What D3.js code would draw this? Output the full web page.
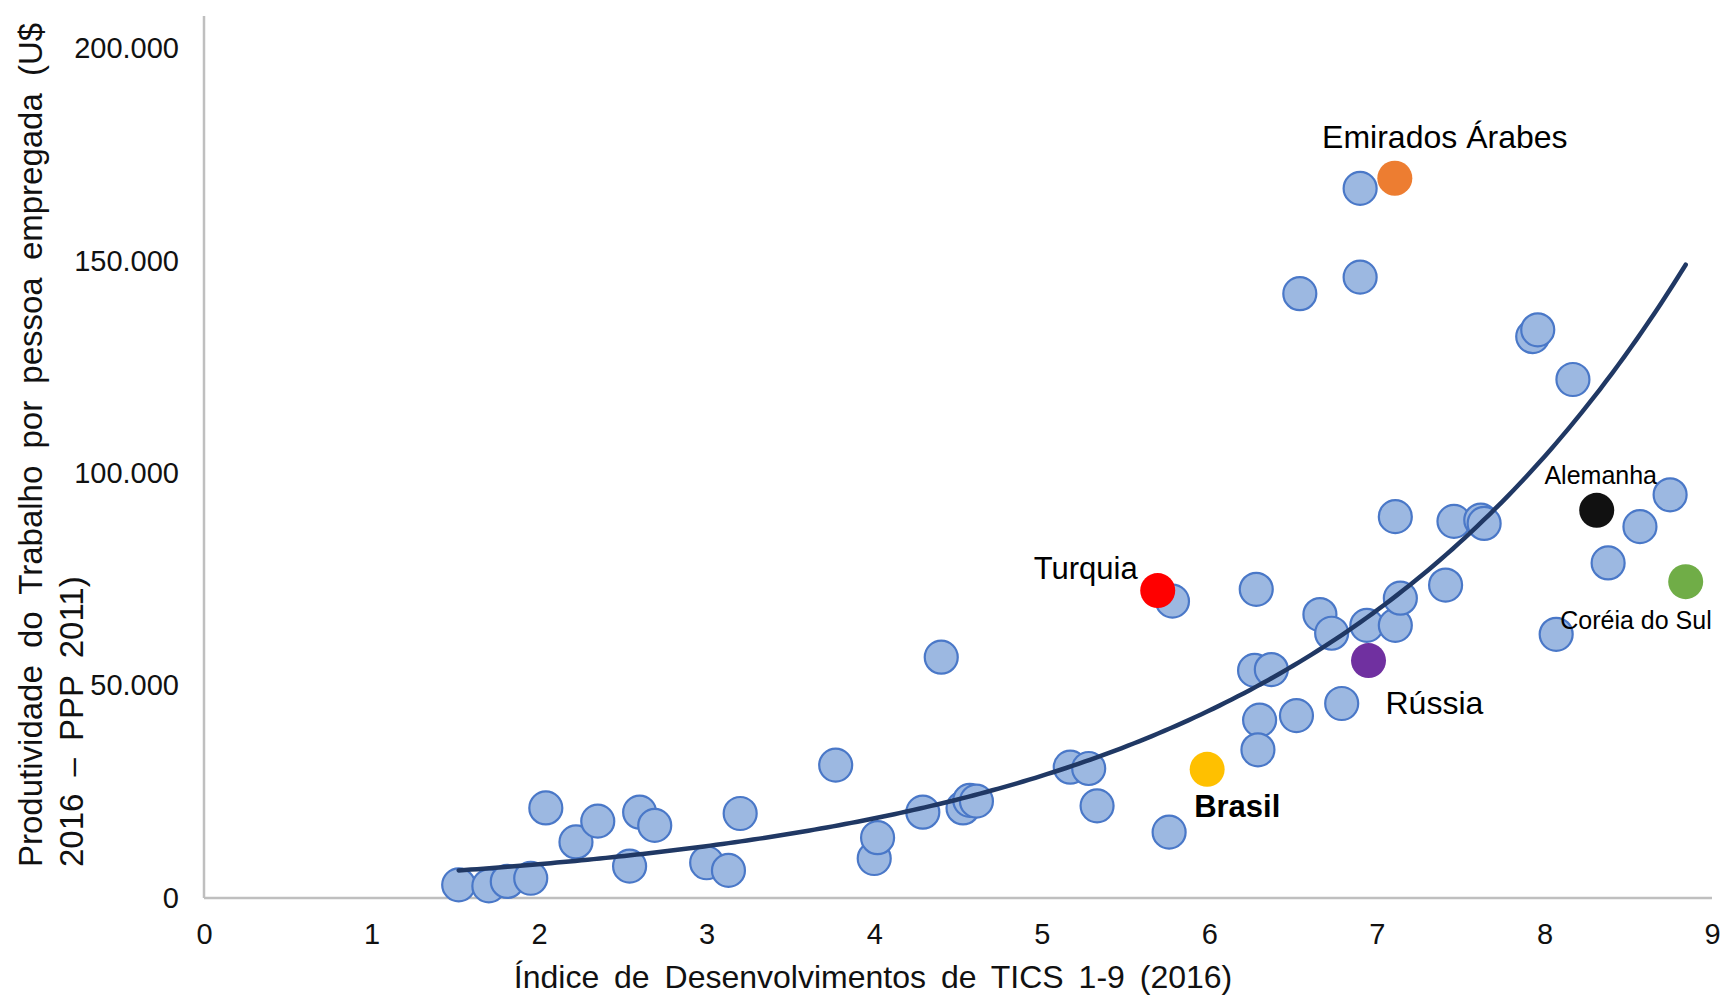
<!DOCTYPE html>
<html><head><meta charset="utf-8">
<script src="https://cdn.jsdelivr.net/npm/d3@7"></script>
<style>body{margin:0;background:#fff}svg{display:block}</style>
</head><body><svg id="c" width="1721" height="997"></svg>
<script>
// ---- data ----
const ictIndex = [1.52,1.70,1.81,1.95,2.04,2.22,2.35,2.54,2.60,2.69,3.00,3.13,3.20,3.77,4.00,4.02,4.29,4.40,4.53,4.57,4.61,5.17,5.28,5.33,5.76,5.78,6.28,6.27,6.37,6.30,6.29,6.52,6.54,6.66,6.73,6.79,6.90,6.90,6.94,7.11,7.11,7.14,7.41,7.46,7.62,7.64,7.93,7.96,8.17,8.07,8.38,8.57,8.75];
const productivity = [3100,2850,3900,4650,21200,13200,18100,7500,20200,17100,8300,6500,19900,31300,9300,14200,20200,56700,21200,23000,22800,30800,30500,21700,15500,69900,72700,53600,53800,41900,34900,42950,142300,66750,62350,45800,167100,146200,64200,89800,64200,70600,73700,88700,89000,88200,132200,133800,122100,62100,78900,87450,94950];

const highlightNames = ["Emirados Árabes","Turquia","Rússia","Brasil","Alemanha","Coréia do Sul"];
const highlightX = [7.107,5.692,6.950,5.987,8.312,8.843];
const highlightY = [169500,72400,55900,30300,91300,74500];
const highlightColors = ["#ed7d31","#ff0000","#7030a0","#ffc000","#111111","#70ad47"];

const xTicks = [0,1,2,3,4,5,6,7,8,9];
const yTicks = [0,50000,100000,150000,200000];
const xTitle = "Índice de Desenvolvimentos de TICS 1-9 (2016)";
const yTitleLines = ["Produtividade do Trabalho por pessoa empregada (U$","2016 – PPP 2011)"];

// ---- layout ----
const svg = d3.select("#c");
const x = d3.scaleLinear().domain([0,9]).range([204,1712]);
const y = d3.scaleLinear().domain([0,207700]).range([898,16]);
const fmt = d3.formatLocale({decimal:",",thousands:".",grouping:[3],currency:["R$",""]}).format(",d");
const font = "Arial, 'Liberation Sans', sans-serif";

// axes lines
svg.append("line").attr("x1",x(0)).attr("x2",x(0)).attr("y1",y(0)).attr("y2",y(207700))
  .attr("stroke","#bfbfbf").attr("stroke-width",2.5);
svg.append("line").attr("x1",x(0)).attr("x2",x(9)).attr("y1",y(0)).attr("y2",y(0))
  .attr("stroke","#bfbfbf").attr("stroke-width",2.5);

// tick labels via d3 axes
const xAxis = svg.append("g").attr("transform",`translate(0,${y(0)})`)
  .call(d3.axisBottom(x).tickValues(xTicks).tickFormat(d3.format("d")).tickSize(0).tickPadding(25));
const yAxis = svg.append("g").attr("transform",`translate(${x(0)},0)`)
  .call(d3.axisLeft(y).tickValues(yTicks).tickFormat(fmt).tickSize(0).tickPadding(25));
[xAxis,yAxis].forEach(a=>{
  a.select(".domain").remove();
  a.selectAll("text").attr("font-family",font).attr("font-size",29).attr("fill","#111");
});

// axis titles
svg.append("text").attr("x",873).attr("y",988).attr("text-anchor","middle")
  .attr("font-family",font).attr("font-size",32).attr("word-spacing",6).attr("fill","#111").text(xTitle);
yTitleLines.forEach((t,i)=>{
  svg.append("text").attr("transform",`translate(${42+i*41},867) rotate(-90)`)
    .attr("text-anchor","start").attr("font-family",font).attr("font-size",33)
    .attr("word-spacing",8).attr("fill","#111").text(t);
});

// points
const pts = ictIndex.map((v,i)=>({x:v,y:productivity[i]}));
svg.append("g").selectAll("circle").data(pts).join("circle")
  .attr("cx",d=>x(d.x)).attr("cy",d=>y(d.y)).attr("r",16.5)
  .attr("fill","#9cb8e1").attr("stroke","#4a78c8").attr("stroke-width",2.2);

// exponential trendline (least squares on ln y, like the spreadsheet trendline)
const all = pts.concat(highlightX.map((v,i)=>({x:v,y:highlightY[i]})));
const n = all.length;
const mx = d3.mean(all,d=>d.x), ml = d3.mean(all,d=>Math.log(d.y));
const b = d3.sum(all,d=>(d.x-mx)*(Math.log(d.y)-ml))/d3.sum(all,d=>(d.x-mx)**2);
const a = Math.exp(ml-b*mx);
const [x0,x1] = d3.extent(all,d=>d.x);
const tr = d3.range(0,201).map(k=>{const xv=x0+(x1-x0)*k/200;return {x:xv,y:a*Math.exp(b*xv)};});
svg.append("path").datum(tr).attr("fill","none").attr("stroke","#203864").attr("stroke-width",4.5)
  .attr("stroke-linecap","round")
  .attr("d",d3.line().x(d=>x(d.x)).y(d=>y(d.y)));

// highlighted countries
const hl = highlightNames.map((nm,i)=>({name:nm,x:highlightX[i],y:highlightY[i],c:highlightColors[i]}));
svg.append("g").selectAll("circle").data(hl).join("circle")
  .attr("cx",d=>x(d.x)).attr("cy",d=>y(d.y)).attr("r",17.5).attr("fill",d=>d.c);

// labels
const labelStyle = {
  "Emirados Árabes":{dx:50,dy:-30,anchor:"middle",size:32,weight:"normal"},
  "Turquia":{dx:-20,dy:-12,anchor:"end",size:31,weight:"normal"},
  "Rússia":{dx:17,dy:53,anchor:"start",size:32,weight:"normal"},
  "Brasil":{dx:-13,dy:48,anchor:"start",size:31,weight:"bold"},
  "Alemanha":{dx:4,dy:-26,anchor:"middle",size:25,weight:"normal"},
  "Coréia do Sul":{dx:26,dy:47,anchor:"end",size:25,weight:"normal"}
};
svg.append("g").selectAll("text").data(hl).join("text")
  .attr("x",d=>x(d.x)+labelStyle[d.name].dx).attr("y",d=>y(d.y)+labelStyle[d.name].dy)
  .attr("text-anchor",d=>labelStyle[d.name].anchor)
  .attr("font-size",d=>labelStyle[d.name].size).attr("font-weight",d=>labelStyle[d.name].weight)
  .attr("font-family",font).attr("fill","#000").text(d=>d.name);
</script></body></html>
